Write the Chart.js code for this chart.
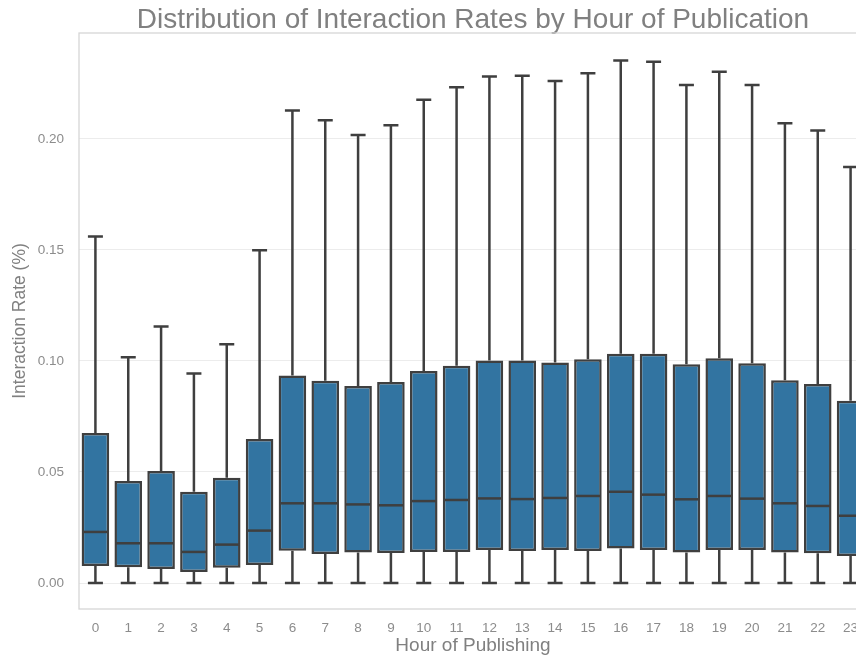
<!DOCTYPE html>
<html>
<head>
<meta charset="utf-8">
<script src="https://cdn.jsdelivr.net/npm/chart.js@4.4.1/dist/chart.umd.min.js"></script>
<style>
  html, body { margin: 0; padding: 0; background: #ffffff; overflow: hidden; width: 856px; height: 655px; }
  #c { display: block; }
</style>
</head>
<body>
<canvas id="c" width="900" height="655"></canvas>
<script>
const hours = ['0','1','2','3','4','5','6','7','8','9','10','11','12','13','14','15','16','17','18','19','20','21','22','23'];
const whiskerHigh = [0.1560,0.1017,0.1155,0.0944,0.1075,0.1499,0.2128,0.2084,0.2018,0.2062,0.2176,0.2233,0.2281,0.2285,0.2261,0.2296,0.2353,0.2347,0.2243,0.2303,0.2243,0.2071,0.2038,0.1873];
const q3 = [0.0676,0.0459,0.0505,0.0411,0.0474,0.0649,0.0935,0.0911,0.0887,0.0905,0.0955,0.0979,0.1002,0.1002,0.0993,0.1008,0.1032,0.1032,0.0985,0.1012,0.0990,0.0913,0.0896,0.0821];
const median = [0.0230,0.0179,0.0179,0.0140,0.0173,0.0236,0.0359,0.0359,0.0354,0.0350,0.0369,0.0374,0.0381,0.0378,0.0383,0.0392,0.0411,0.0398,0.0377,0.0392,0.0380,0.0359,0.0347,0.0303];
const q1 = [0.0077,0.0071,0.0063,0.0050,0.0069,0.0081,0.0145,0.0131,0.0138,0.0135,0.0140,0.0140,0.0149,0.0144,0.0149,0.0144,0.0155,0.0149,0.0137,0.0149,0.0149,0.0138,0.0134,0.0122];
const whiskerLow = [0,0,0,0,0,0,0,0,0,0,0,0,0,0,0,0,0,0,0,0,0,0,0,0];
const yTicks = [0.00, 0.05, 0.10, 0.15, 0.20];

const EDGE = '#3f3f3f';
const LW = 2.5;

const boxPlugin = {
  id: 'boxParts',
  beforeDatasetsDraw(chart) {
    const {ctx, chartArea: a} = chart;
    ctx.save();
    ctx.strokeStyle = '#d4d4d4';
    ctx.lineWidth = 1.25;
    ctx.strokeRect(a.left, a.top, a.right - a.left, a.bottom - a.top);
    const y = chart.scales.y;
    const meta = chart.getDatasetMeta(0);
    ctx.strokeStyle = EDGE;
    ctx.lineWidth = LW;
    ctx.lineCap = 'butt';
    meta.data.forEach((bar, i) => {
      const x = bar.x;
      const capHalf = 7.5;
      const yHi = y.getPixelForValue(whiskerHigh[i]);
      const yQ3 = y.getPixelForValue(q3[i]);
      const yQ1 = y.getPixelForValue(q1[i]);
      const yLo = y.getPixelForValue(whiskerLow[i]);
      ctx.beginPath();
      ctx.moveTo(x, yQ3); ctx.lineTo(x, yHi);
      ctx.moveTo(x - capHalf, yHi); ctx.lineTo(x + capHalf, yHi);
      ctx.moveTo(x, yQ1); ctx.lineTo(x, yLo);
      ctx.moveTo(x - capHalf, yLo); ctx.lineTo(x + capHalf, yLo);
      ctx.stroke();
    });
    ctx.restore();
  },
  afterDatasetsDraw(chart) {
    const {ctx} = chart;
    const y = chart.scales.y;
    const meta = chart.getDatasetMeta(0);
    ctx.save();
    ctx.strokeStyle = EDGE;
    ctx.lineWidth = LW;
    meta.data.forEach((bar, i) => {
      const half = bar.width / 2;
      const ym = y.getPixelForValue(median[i]);
      ctx.beginPath();
      ctx.moveTo(bar.x - half + LW / 2, ym);
      ctx.lineTo(bar.x + half - LW / 2, ym);
      ctx.stroke();
    });
    ctx.restore();
  }
};

const FONT = "'Liberation Sans', Arial, sans-serif";

new Chart(document.getElementById('c'), {
  type: 'bar',
  data: {
    labels: hours,
    datasets: [{
      data: hours.map((h, i) => [q1[i], q3[i]]),
      backgroundColor: '#3274a1',
      borderColor: EDGE,
      borderWidth: LW,
      borderSkipped: false,
      barPercentage: 0.84,
      categoryPercentage: 1.0
    }]
  },
  options: {
    responsive: false,
    animation: false,
    layout: { padding: { left: 0, right: 33, top: 0, bottom: 0 } },
    plugins: {
      legend: { display: false },
      tooltip: { enabled: false },
      title: {
        display: true,
        text: 'Distribution of Interaction Rates by Hour of Publication',
        fullSize: false,
        color: '#808080',
        font: { family: FONT, size: 28, weight: 'normal', lineHeight: 0.9 },
        padding: { top: 7.8, bottom: 0 }
      }
    },
    scales: {
      x: {
        grid: { display: false, drawTicks: false },
        border: { display: false },
        ticks: { color: '#8c8c8c', font: { family: FONT, size: 13.5 }, padding: 11, maxRotation: 0, autoSkip: false },
        title: { display: true, text: 'Hour of Publishing', color: '#808080', font: { family: FONT, size: 19, lineHeight: 1.0 }, padding: { top: 0, bottom: 0 } },
        afterFit(scale) { scale.height = 46; }
      },
      y: {
        min: -0.0117,
        max: 0.2477,
        grid: { color: '#ececec', lineWidth: 1, drawTicks: false },
        border: { display: false },
        afterBuildTicks(scale) { scale.ticks = yTicks.map(v => ({ value: v })); },
        ticks: { color: '#8c8c8c', font: { family: FONT, size: 13.5 }, padding: 15, callback: v => Number(v).toFixed(2) },
        title: { display: true, text: 'Interaction Rate (%)', color: '#808080', font: { family: FONT, size: 17.5 }, padding: { top: 10, bottom: 0 } },
        afterFit(scale) { scale.width = 79; }
      }
    }
  },
  plugins: [boxPlugin]
});
</script>
</body>
</html>
